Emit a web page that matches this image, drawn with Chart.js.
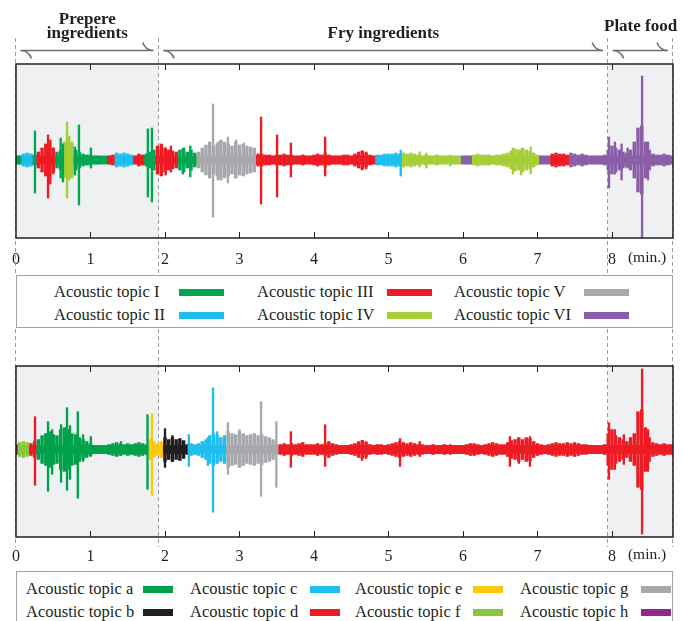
<!DOCTYPE html>
<html>
<head>
<meta charset="utf-8">
<script src="https://cdn.jsdelivr.net/npm/chart.js@4.4.0/dist/chart.umd.min.js"></script>
<style>
  body { margin: 0; background: #fff; width: 683px; height: 621px; position: relative; overflow: hidden;
         font-family: 'Liberation Serif', 'Times New Roman', serif; color: #231f20; }
  canvas { position: absolute; left: 0; }
  #c1 { top: 0; }
  #c2 { top: 329px; }
  .legend { position: absolute; left: 16px; width: 655px; border: 1.5px solid #a3a3a3; background: #fff; }
  .item { position: absolute; font-size: 16.5px; line-height: 20px; white-space: nowrap; }
  .sw { position: absolute; height: 7px; }
</style>
</head>
<body>
<canvas id="c1" width="683" height="275"></canvas>
<canvas id="c2" width="683" height="242"></canvas>
<div class="legend" id="leg1" style="top:275px;height:51px"></div>
<div class="legend" id="leg2" style="top:571px;height:60px"></div>

<script>
// ---- shared x axis (minutes) ----
const xMax = 8.82;
const xTicks = [0, 1, 2, 3, 4, 5, 6, 7, 8];
const phaseBounds = [0, 1.915, 7.95, 8.82];
const phaseNames = [['Prepere', 'ingredients'], ['Fry ingredients'], ['Plate food']];
const shadeStart = [0, 7.95];
const shadeEnd = [1.915, 8.82];
const envStep = 0.05;
const coreHalf = 4;

// ---- top panel: topics I..VI ----
const topics1 = ['I', 'II', 'III', 'IV', 'V', 'VI'];
const colors1 = ['#00a651', '#1cbff0', '#ed1c24', '#a6ce39', '#a7a9ac', '#8b5ea8'];
const segStart1 = [0, 0.08, 0.215, 0.265, 0.523, 0.644, 0.765, 1.221, 1.302, 1.557, 1.597, 1.745,
  1.852, 2.161, 2.43, 3.208, 4.846, 5.18, 5.973, 6.134, 7.047, 7.181, 7.409];
const segTopic1 = ['I', 'II', 'I', 'III', 'I', 'IV', 'I', 'III', 'II', 'IV', 'III', 'I',
  'III', 'I', 'V', 'III', 'II', 'IV', 'VI', 'IV', 'VI', 'III', 'VI'];
const env1 = [
  4, 4, 6, 7, 6, 5, 8, 12, 16, 17,
  12, 8, 10, 18, 20, 18, 10, 8, 6, 5,
  5, 4, 4, 3, 3, 4, 5, 7, 6, 7,
  6, 5, 4, 6, 5, 6, 8, 10, 14, 16,
  12, 10, 9, 8, 10, 12, 8, 10, 7, 8,
  12, 15, 18, 14, 16, 20, 18, 16, 14, 18,
  15, 16, 14, 13, 12, 6, 6, 5, 5, 4,
  5, 5, 6, 5, 5, 4, 4, 5, 4, 4,
  5, 6, 5, 7, 5, 4, 4, 4, 5, 5,
  4, 6, 8, 9, 7, 5, 4, 5, 5, 6,
  6, 6, 7, 6, 7, 6, 7, 6, 5, 4,
  5, 4, 4, 5, 4, 4, 4, 4, 4, 4,
  4, 4, 4, 5, 6, 5, 5, 5, 4, 5,
  5, 6, 7, 9, 11, 10, 12, 10, 9, 7,
  5, 4, 4, 4, 6, 7, 6, 6, 5, 7,
  6, 5, 6, 5, 4, 4, 4, 4, 5, 10,
  14, 12, 10, 8, 7, 10, 18, 32, 34, 18,
  10, 6, 5, 5, 6, 5, 4
];
const spikeT1 = [0.255, 0.43, 0.46, 0.50, 0.60, 0.63, 0.685, 0.715, 0.79, 0.845, 1.005, 1.77, 1.825,
  2.01, 2.08, 2.24, 2.34, 2.645, 2.71, 2.845, 2.955, 3.06, 3.29, 3.505, 3.69, 4.15, 4.645, 4.70,
  5.165, 5.42, 5.51, 5.83, 6.67, 6.78, 6.91, 7.96, 8.04, 8.13, 8.21, 8.405, 8.485];
const spikeUp1 = [29, 25, 20, 12, 22, 16, 38, 24, 13, 35, 12, 31, 32,
  12, 14, 11, 14, 56, 18, 23, 20, 17, 43, 25, 17, 23, 9, 8,
  10, 8, 7, 5, 12, 10, 13, 23, 18, 16, 12, 84, 18];
const spikeDown1 = [33, 38, 24, 14, 18, 22, 38, 20, 15, 45, 8, 37, 42,
  15, 12, 14, 17, 57, 20, 23, 18, 15, 44, 37, 17, 16, 10, 9,
  16, 7, 8, 6, 14, 15, 14, 28, 14, 20, 8, 78, 20];

// ---- bottom panel: topics a..h ----
const topics2 = ['a', 'b', 'c', 'd', 'e', 'f', 'g', 'h'];
const colors2 = ['#00a14b', '#231f20', '#1cbfef', '#ed1c24', '#fdc70c', '#8cc63f', '#a7a9ac', '#92278f'];
const segStart2 = [0, 0.02, 0.2, 0.268, 1.772, 1.987, 2.309, 2.805, 3.503];
const segTopic2 = ['h', 'f', 'd', 'a', 'e', 'b', 'c', 'g', 'd'];
const env2 = [
  5, 7, 8, 7, 6, 8, 10, 14, 16, 18,
  15, 14, 20, 22, 20, 16, 15, 12, 10, 8,
  6, 4, 4, 4, 4, 5, 6, 7, 6, 5,
  6, 5, 6, 7, 6, 5, 10, 8, 6, 8,
  12, 10, 12, 10, 11, 9, 5, 6, 5, 6,
  8, 10, 14, 16, 14, 12, 14, 18, 16, 15,
  18, 16, 14, 15, 16, 14, 15, 13, 12, 10,
  5, 5, 6, 5, 6, 5, 6, 7, 5, 5,
  5, 6, 5, 6, 8, 6, 5, 4, 4, 4,
  5, 6, 8, 9, 7, 5, 4, 5, 5, 4,
  5, 6, 7, 8, 7, 6, 7, 6, 5, 5,
  4, 4, 5, 4, 4, 5, 4, 4, 4, 4,
  4, 5, 6, 6, 5, 4, 5, 6, 7, 6,
  5, 5, 7, 9, 10, 12, 10, 12, 11, 8,
  6, 5, 4, 5, 6, 7, 6, 6, 7, 6,
  7, 6, 5, 5, 4, 4, 4, 4, 5, 16,
  20, 14, 12, 10, 8, 12, 16, 38, 40, 22,
  12, 7, 6, 5, 6, 5, 5
];
const spikeT2 = [0.255, 0.43, 0.485, 0.605, 0.685, 0.725, 0.83, 0.90, 1.005, 1.41, 1.765, 1.825,
  2.0, 2.10, 2.32, 2.575, 2.645, 2.70, 2.845, 3.0, 3.29, 3.495, 3.69, 4.15, 4.645, 4.70,
  5.155, 5.42, 5.83, 6.63, 6.75, 6.90, 7.96, 8.04, 8.16, 8.405, 8.485];
const spikeUp2 = [33, 28, 20, 25, 42, 24, 38, 15, 13, 8, 35, 36,
  21, 14, 15, 12, 62, 18, 27, 20, 48, 28, 18, 25, 9, 8,
  11, 8, 5, 13, 11, 13, 27, 20, 15, 81, 20];
const spikeDown2 = [36, 42, 25, 33, 41, 30, 49, 12, 7, 6, 40, 46,
  18, 12, 17, 16, 63, 10, 25, 18, 47, 38, 18, 17, 11, 9,
  17, 7, 5, 17, 14, 17, 30, 20, 15, 85, 22];

const FONT = "'Liberation Serif', 'Times New Roman', serif";

function topicAt(t, starts, topics) {
  let k = 0;
  for (let i = 0; i < starts.length; i++) if (t >= starts[i]) k = i;
  return topics[k];
}

const decor = {
  id: 'decor',
  beforeDatasetsDraw(chart, args, opts) {
    const { ctx, chartArea: a, scales: { x } } = chart;
    ctx.save();
    ctx.fillStyle = '#eff0f2';
    shadeStart.forEach((s, i) => {
      const x0 = x.getPixelForValue(s), x1 = x.getPixelForValue(shadeEnd[i]);
      ctx.fillRect(x0, a.top, x1 - x0, a.bottom - a.top);
    });
    ctx.strokeStyle = '#9d9d9d';
    ctx.lineWidth = 1;
    ctx.setLineDash([4, 3]);
    phaseBounds.forEach(b => {
      const px = Math.round(x.getPixelForValue(b)) - 0.5;
      ctx.beginPath();
      ctx.moveTo(px, opts.dashTop);
      ctx.lineTo(px, a.bottom + opts.dashBelow);
      ctx.stroke();
    });
    ctx.restore();
  },
  afterDatasetsDraw(chart, args, opts) {
    const { ctx, chartArea: a, scales: { x } } = chart;
    ctx.save();
    // frame and inward ticks
    ctx.strokeStyle = '#231f20';
    ctx.lineWidth = 1.5;
    ctx.strokeRect(a.left, a.top, a.right - a.left, a.bottom - a.top);
    ctx.lineWidth = 1;
    xTicks.slice(1).forEach(v => {
      const px = Math.round(x.getPixelForValue(v)) + 0.5;
      ctx.beginPath();
      ctx.moveTo(px, a.top); ctx.lineTo(px, a.top + 6);
      ctx.moveTo(px, a.bottom); ctx.lineTo(px, a.bottom - 6);
      ctx.stroke();
    });
    // unit label
    ctx.fillStyle = '#231f20';
    ctx.font = '15.5px ' + FONT;
    ctx.textAlign = 'left';
    ctx.textBaseline = 'middle';
    ctx.fillText('(min.)', x.getPixelForValue(8) + 16, a.bottom + opts.labelOffset);

    // phase braces and titles
    if (opts.braces) {
      ctx.strokeStyle = '#6d6e71';
      ctx.lineWidth = 1.6;
      const y = 50.5;
      for (let i = 0; i < phaseNames.length; i++) {
        const xa = x.getPixelForValue(phaseBounds[i]) + 4.5;
        const xb = x.getPixelForValue(phaseBounds[i + 1]) - 5;
        ctx.beginPath();
        ctx.moveTo(xa + 11, y + 8);
        ctx.quadraticCurveTo(xa + 8, y, xa, y);
        ctx.lineTo(xb, y);
        ctx.quadraticCurveTo(xb - 8, y, xb - 11, y - 8);
        ctx.stroke();

        const mid = (x.getPixelForValue(phaseBounds[i]) + x.getPixelForValue(phaseBounds[i + 1])) / 2;
        ctx.font = 'bold 17px ' + FONT;
        ctx.textAlign = 'center';
        const lines = phaseNames[i];
        const ys = lines.length === 2 ? [20, 34] : (i === 1 ? [34] : [27]);
        lines.forEach((l, j) => ctx.fillText(l, mid, ys[j]));
      }
    }
    ctx.restore();
  }
};

function makePanel(id, env, segStart, segTopic, topics, colors, sT, sUp, sDown, yMin, yMax, padTop, axisH, tickPad, decorOpts) {
  const colorOf = t => colors[topics.indexOf(topicAt(t, segStart, segTopic))];
  const envData = env.map((v, i) => ({ x: i * envStep, y: [-v, v] }));
  const coreData = env.map((v, i) => ({ x: i * envStep, y: [-coreHalf, coreHalf] }));
  const spikeData = sT.map((t, i) => ({ x: t, y: [-sDown[i], sUp[i]] }));
  return new Chart(document.getElementById(id), {
    type: 'bar',
    data: {
      datasets: [
        { data: coreData, backgroundColor: coreData.map(d => colorOf(d.x)), barThickness: 3.9, grouped: false, order: 3 },
        { data: envData, backgroundColor: envData.map(d => colorOf(d.x)), barThickness: 2.8, grouped: false, order: 2 },
        { data: spikeData, backgroundColor: spikeData.map(d => colorOf(d.x)), barThickness: 1.7, grouped: false, order: 1 }
      ]
    },
    options: {
      responsive: false,
      animation: false,
      devicePixelRatio: 1,
      layout: { padding: { left: 16, right: 10, top: padTop, bottom: 0 } },
      plugins: { legend: { display: false }, tooltip: { enabled: false }, decor: decorOpts },
      scales: {
        x: {
          type: 'linear', min: 0, max: xMax, offset: false,
          grid: { display: false, drawTicks: false },
          border: { display: false },
          afterBuildTicks(s) { s.ticks = xTicks.map(v => ({ value: v })); },
          afterFit(s) { s.height = axisH; },
          ticks: { autoSkip: false, maxRotation: 0, padding: tickPad, color: '#231f20',
                   font: { family: FONT, size: 16 } }
        },
        y: { display: false, min: yMin, max: yMax }
      }
    },
    plugins: [decor]
  });
}

makePanel('c1', env1, segStart1, segTopic1, topics1, colors1, spikeT1, spikeUp1, spikeDown1,
  -78, 96, 64, 37, 12, { dashTop: 38, dashBelow: 40, labelOffset: 20, braces: true });
makePanel('c2', env2, segStart2, segTopic2, topics2, colors2, spikeT2, spikeUp2, spikeDown2,
  -88, 84, 37, 34, 10, { dashTop: 0, dashBelow: 10, labelOffset: 18, braces: false });

// ---- legends ----
function buildLegend(elId, topics, colors, textX, swX, swW, rowY) {
  const box = document.getElementById(elId);
  topics.forEach((t, k) => {
    const col = Math.floor(k / 2), row = k % 2;
    const txt = document.createElement('div');
    txt.className = 'item';
    txt.textContent = 'Acoustic topic ' + t;
    txt.style.left = textX[col] + 'px';
    txt.style.top = (rowY[row] - 10) + 'px';
    box.appendChild(txt);
    const sw = document.createElement('div');
    sw.className = 'sw';
    sw.style.left = swX[col] + 'px';
    sw.style.width = swW + 'px';
    sw.style.top = (rowY[row] - 3.5) + 'px';
    sw.style.background = colors[k];
    box.appendChild(sw);
  });
}
buildLegend('leg1', topics1, colors1, [37, 240, 437], [162, 370, 567], 45, [16, 39]);
buildLegend('leg2', topics2, colors2, [9, 173, 338, 503], [126, 293, 456, 624], 30, [17, 40]);
</script>
</body>
</html>
